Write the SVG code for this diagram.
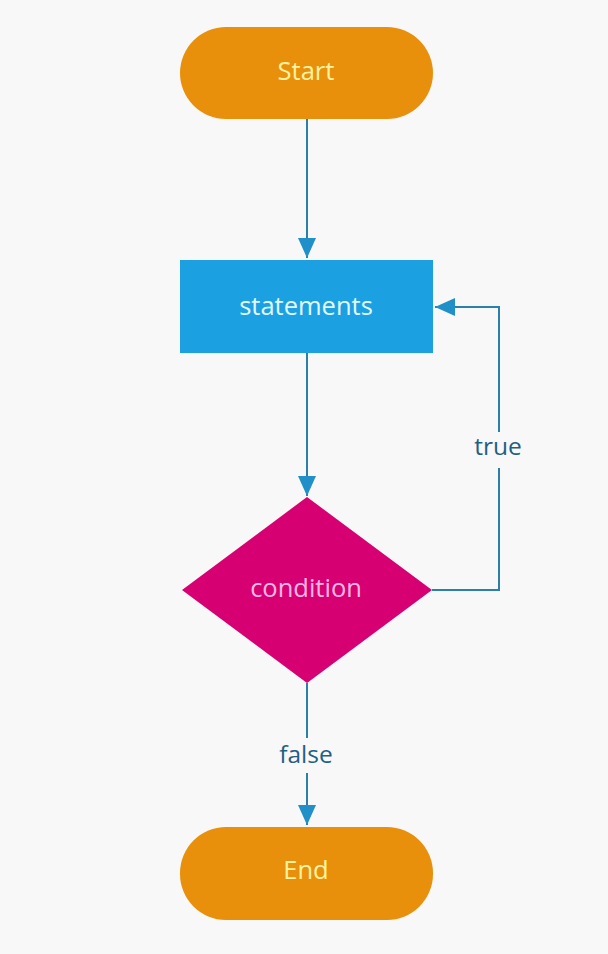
<svg xmlns="http://www.w3.org/2000/svg" width="608" height="954" viewBox="0 0 608 954">
<defs>
<style>
.lbl{font-family:"Open Sans","Noto Sans",sans-serif;font-size:25.5px;text-anchor:middle}
.term{fill:#E8900C}
.line{fill:none;stroke:#2B7FA8;stroke-width:2}
.edge{font-family:"Open Sans","Noto Sans",sans-serif;font-size:24.5px;text-anchor:middle;fill:#1F5F86}
</style>
<marker id="arr" markerWidth="20" markerHeight="18" refX="20" refY="9" orient="auto" markerUnits="userSpaceOnUse">
<path d="M0,0 L20,9 L0,18 Z" fill="#2290C8"/>
</marker>
</defs>
<rect width="608" height="954" fill="#F8F8F8"/>
<g id="connectors">
<line class="line" x1="307" y1="119" x2="307" y2="258" marker-end="url(#arr)"/>
<line class="line" x1="307" y1="353" x2="307" y2="496" marker-end="url(#arr)"/>
<polyline class="line" points="432,590 499,590 499,468"/>
<polyline class="line" points="499,432 499,307 435,307" marker-end="url(#arr)"/>
<line class="line" x1="307" y1="683" x2="307" y2="738"/>
<line class="line" x1="307" y1="773" x2="307" y2="825" marker-end="url(#arr)"/>
<text class="edge" x="498" y="455">true</text>
<text class="edge" x="306" y="763">false</text>
</g>
<g id="start">
<rect class="term" x="180" y="27" width="253" height="92" rx="46"/>
<text class="lbl" x="306" y="80" fill="#FFF3A0">Start</text>
</g>
<g id="statements">
<rect x="180" y="260" width="253" height="93" fill="#1BA1E2"/>
<text class="lbl" x="306" y="315" fill="#E2F8FF">statements</text>
</g>
<g id="condition">
<polygon points="307,497 432,590 307,683 182,590" fill="#D60072"/>
<text class="lbl" x="306" y="597" fill="#FFB8E6">condition</text>
</g>
<g id="end">
<rect class="term" x="180" y="827" width="253" height="93" rx="46"/>
<text class="lbl" x="306" y="879" fill="#FFF3A0">End</text>
</g>
</svg>
